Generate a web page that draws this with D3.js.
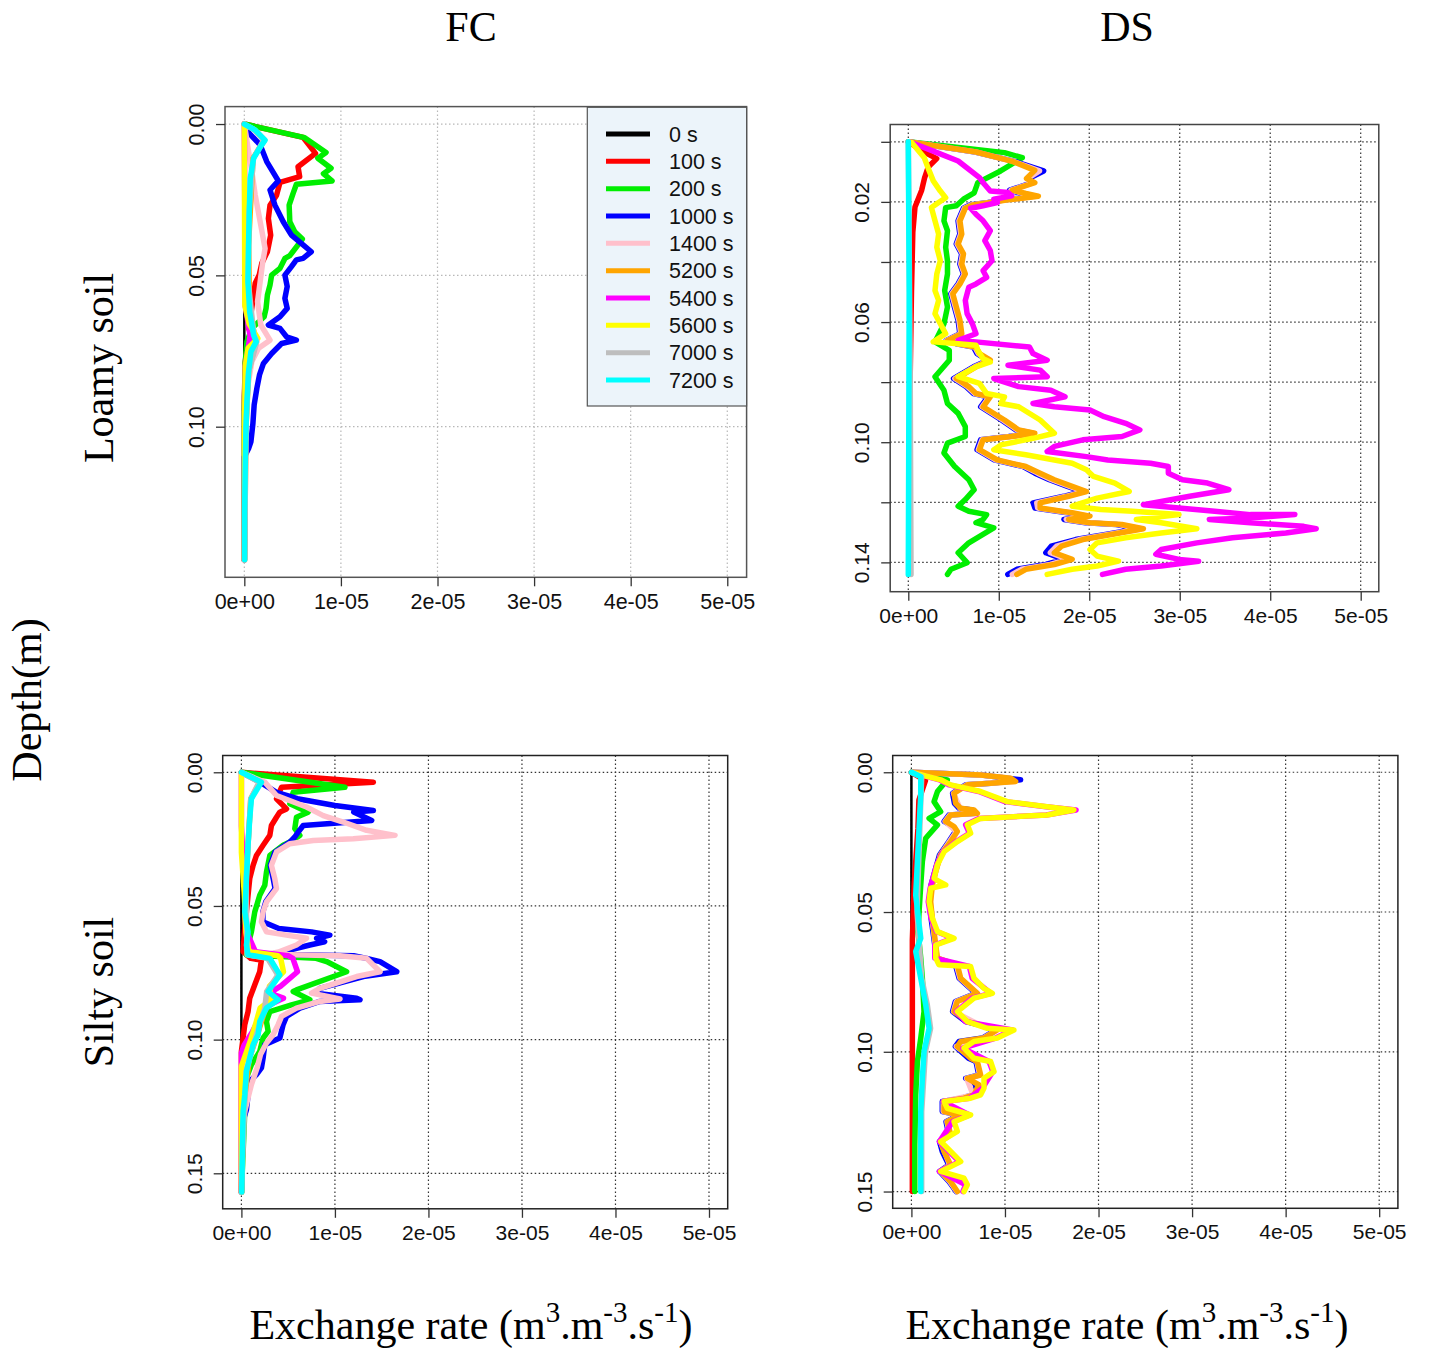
<!DOCTYPE html>
<html><head><meta charset="utf-8">
<script src="https://cdn.jsdelivr.net/npm/d3@7"></script>
<style>body{margin:0;background:#fff}svg{display:block}</style>
</head><body>
<svg id="chart" width="1431" height="1353"></svg>
<script>
// Each series: [depth (m), exchange rate in units of 1e-5 m3.m-3.s-1]
const times = ["0 s","100 s","200 s","1000 s","1400 s","5200 s","5400 s","5600 s","7000 s","7200 s"];
const xTickValues = [0,1,2,3,4,5];
const xTickLabels = ["0e+00","1e-05","2e-05","3e-05","4e-05","5e-05"];
const colTitles = ["FC","DS"];
const rowTitles = ["Loamy soil","Silty soil"];

// ---------- Loamy soil, FC ----------
const LFC_0 = [[0,0],[0.144,0]];
const LFC_100 = [[0,0],[.0044,.608],[.0097,.737],[.0141,.556],[.0174,.573],[.0193,.369],[.0235,.334],[.0268,.266],[.0312,.249],[.0367,.273],[.0422,.239],[.046,.181],[.0499,.154],[.0526,.113],[.0565,.096],[.062,.072],[.0675,.044],[.0708,.09],[.0741,.027],[.0785,.01],[.0873,.003],[.09,0],[.144,0]];
const LFC_200 = [[0,0],[.0045,.625],[.0094,.846],[.0113,.761],[.0146,.898],[.0164,.819],[.0188,.908],[.0199,.539],[.0229,.505],[.0268,.464],[.0323,.471],[.0356,.522],[.038,.601],[.0435,.471],[.0444,.42],[.0477,.369],[.0499,.283],[.0532,.266],[.0565,.239],[.0609,.225],[.0637,.205],[.0675,.078],[.0719,.027],[.0785,.01],[.0895,.003],[.095,0],[.144,0]];
const LFC_1000 = [[0,0],[.0028,.044],[.0069,.164],[.0124,.232],[.0188,.352],[.0218,.266],[.0268,.317],[.0323,.403],[.0367,.488],[.0394,.59],[.0422,.693],[.0444,.608],[.0449,.539],[.0471,.488],[.0499,.42],[.0537,.444],[.0576,.42],[.0609,.444],[.0637,.369],[.0664,.249],[.0675,.369],[.0703,.437],[.0714,.539],[.0725,.386],[.0758,.283],[.0791,.198],[.0829,.157],[.0873,.13],[.0928,.102],[.0989,.089],[.105,.068],[.1072,.044],[.11,0],[.144,0]];
const LFC_1400 = [[0,0],[.0091,.044],[.0157,.078],[.0235,.113],[.0323,.164],[.0411,.215],[.0455,.191],[.0521,.164],[.0587,.137],[.0664,.171],[.0714,.266],[.0741,.147],[.0785,.078],[.0851,.044],[.0895,.02],[.095,.003],[.144,0]];
const LFC_5200 = [[0,0],[.002,.11],[.0053,.21],[.0113,.09],[.04,.044],[.062,.055],[.0719,.12],[.0818,.044],[.1005,.017],[.144,.003]];
const LFC_5400 = [[0,0],[.06,.01],[.07,.06],[.08,.01],[.089,.01],[.144,0]];
const LFC_5600 = [[0,0],[.06,.005],[.066,.05],[.0708,.14],[.074,.04],[.08,.01],[.1,.003],[.144,0]];
const LFC_7000 = [[0,0],[.002,.11],[.0053,.2],[.0113,.095],[.029,.05],[.0521,.04],[.0697,.1],[.0719,.13],[.0818,.045],[.1005,.017],[.144,.003]];
const LFC_7200 = [[0,0],[.002,.113],[.0053,.215],[.008,.157],[.0113,.096],[.018,.061],[.029,.051],[.04,.044],[.0521,.038],[.062,.055],[.0697,.096],[.0719,.123],[.0752,.068],[.0818,.044],[.0917,.027],[.1005,.017],[.1116,.01],[.128,.003],[.144,.003]];

// ---------- Loamy soil, DS ----------
const LDS_0 = [[0,0],[0.144,0]];
const LDS_100 = [[0,0],[.003,.15],[.0056,.314],[.0084,.22],[.012,.18],[.0161,.148],[.0217,.074],[.03,.05],[.05,.035],[.07,.025],[.09,.015],[.11,.01],[.144,.005]];
const LDS_200 = [[0,0],[.0036,1.063],[.0053,1.26],[.0097,1.02],[.0136,.768],[.017,.728],[.0191,.61],[.0213,.531],[.0219,.413],[.0263,.394],[.0296,.433],[.0351,.413],[.0396,.433],[.044,.433],[.0495,.402],[.055,.433],[.0606,.394],[.0666,.295],[.0694,.453],[.0727,.453],[.0782,.295],[.0827,.394],[.0871,.433],[.0904,.551],[.0948,.63],[.0981,.63],[.1003,.433],[.1036,.394],[.1081,.512],[.1125,.669],[.1158,.728],[.1191,.63],[.1213,.551],[.123,.669],[.1241,.866],[.1257,.827],[.1268,.748],[.1285,.945],[.1335,.669],[.1368,.551],[.1401,.65],[.1423,.472],[.144,.433]];
const LDS_1000 = [[0,0],[.0034,.74],[.0065,1.17],[.0097,1.496],[.0122,1.33],[.0136,1.37],[.0161,1.12],[.0172,1.25],[.0181,1.38],[.0194,1.05],[.0202,.88],[.021,.68],[.0221,.61],[.0263,.55],[.0307,.57],[.034,.53],[.0373,.59],[.0407,.57],[.044,.61],[.0473,.55],[.0506,.47],[.055,.51],[.0594,.55],[.0639,.57],[.0661,.42],[.0672,.53],[.0683,.72],[.0705,.76],[.0727,.88],[.0749,.72],[.0788,.50],[.0815,.64],[.0838,.72],[.0849,.88],[.0882,.80],[.0926,1.03],[.0959,1.19],[.097,1.37],[.0981,1.11],[.0992,.80],[.1025,.76],[.1059,.95],[.1081,1.27],[.1103,1.40],[.1125,1.56],[.1147,1.76],[.1164,1.92],[.118,1.72],[.1202,1.38],[.1219,1.40],[.1235,1.76],[.1246,1.96],[.1257,1.72],[.1268,1.96],[.1274,2.30],[.1288,2.55],[.1307,2.18],[.1324,1.85],[.1346,1.58],[.1368,1.52],[.139,1.72],[.1407,1.52],[.1423,1.20],[.144,1.10]];
const LDS_1400 = [[0,0],[.0034,.745],[.0065,1.16],[.0097,1.45],[.0122,1.32],[.0136,1.385],[.0161,1.135],[.0172,1.275],[.0181,1.41],[.0194,1.065],[.0202,.89],[.021,.695],[.0221,.62],[.0263,.56],[.0307,.58],[.034,.54],[.0373,.60],[.0407,.58],[.044,.62],[.0473,.56],[.0506,.48],[.055,.52],[.0594,.56],[.0639,.58],[.0661,.425],[.0672,.54],[.0683,.735],[.0705,.775],[.0727,.895],[.0749,.735],[.0788,.515],[.0815,.655],[.0838,.735],[.0849,.895],[.0882,.815],[.0926,1.045],[.0959,1.205],[.097,1.385],[.0981,1.125],[.0992,.815],[.1025,.775],[.1059,.965],[.1081,1.285],[.1103,1.43],[.1125,1.585],[.1147,1.785],[.1164,1.945],[.118,1.745],[.1202,1.42],[.1219,1.43],[.1235,1.785],[.1246,1.985],[.1257,1.745],[.1268,1.985],[.1274,2.33],[.1288,2.575],[.1307,2.21],[.1324,1.89],[.1346,1.64],[.1368,1.57],[.139,1.765],[.1407,1.57],[.1423,1.25],[.144,1.15]];
const LDS_5200 = [[0,0],[.0034,.75],[.0065,1.15],[.0095,1.398],[.0122,1.307],[.0136,1.398],[.0161,1.15],[.0172,1.30],[.0181,1.437],[.0194,1.083],[.0202,.906],[.021,.709],[.0221,.63],[.0263,.571],[.0307,.591],[.034,.551],[.0373,.61],[.0407,.591],[.044,.63],[.0473,.571],[.0506,.492],[.055,.531],[.0594,.571],[.0639,.591],[.0661,.433],[.0672,.551],[.0683,.748],[.0705,.787],[.0727,.906],[.0749,.748],[.0788,.531],[.0815,.669],[.0838,.748],[.0849,.906],[.0882,.827],[.0926,1.063],[.0959,1.22],[.097,1.398],[.0981,1.142],[.0992,.827],[.1025,.787],[.1059,.984],[.1081,1.299],[.1103,1.457],[.1125,1.614],[.1147,1.811],[.1164,1.969],[.118,1.772],[.1202,1.457],[.1219,1.457],[.1235,1.811],[.1246,2.008],[.1257,1.772],[.1268,2.008],[.1274,2.36],[.1288,2.598],[.1307,2.244],[.1324,1.929],[.1346,1.693],[.1368,1.614],[.139,1.811],[.1407,1.614],[.1423,1.299],[.144,1.2]];
const LDS_5400 = [[0,0],[.0003,.039],[.0031,.276],[.0064,.551],[.0119,.787],[.0136,.827],[.0164,.906],[.0169,1.102],[.018,1.142],[.0191,.945],[.0202,.984],[.0213,.827],[.0221,.689],[.0241,.748],[.0263,.827],[.0296,.906],[.0329,.846],[.0362,.906],[.0396,.925],[.0429,.827],[.0451,.866],[.0473,.748],[.0484,.669],[.0528,.63],[.0572,.65],[.0606,.709],[.0639,.748],[.0661,.551],[.0666,.748],[.0683,1.339],[.0705,1.378],[.0727,1.535],[.0744,1.102],[.076,1.457],[.0782,1.535],[.0788,.945],[.0815,1.22],[.0827,1.575],[.0849,1.732],[.0871,1.378],[.0882,1.614],[.0893,2.008],[.0915,2.165],[.0937,2.402],[.0959,2.559],[.0981,2.362],[.0992,1.929],[.1014,1.614],[.1031,1.535],[.1048,1.969],[.1059,2.205],[.107,2.677],[.1081,2.874],[.1103,2.874],[.1125,3.031],[.1136,3.307],[.1158,3.543],[.118,3.11],[.1208,2.598],[.1219,2.992],[.123,3.386],[.1241,3.78],[.1241,4.272],[.1252,3.78],[.1257,3.327],[.1268,3.78],[.128,4.37],[.1288,4.508],[.1302,4.173],[.1318,3.583],[.1335,3.189],[.1357,2.795],[.1373,2.736],[.139,2.992],[.1396,3.209],[.1412,2.795],[.1423,2.402],[.144,2.146]];
const LDS_5600 = [[0,0],[.0003,.039],[.0053,.177],[.0086,.217],[.013,.276],[.0164,.354],[.0186,.413],[.0202,.335],[.0219,.256],[.0263,.295],[.0307,.335],[.0351,.315],[.0396,.354],[.044,.315],[.0495,.295],[.0528,.335],[.0572,.295],[.0639,.413],[.0666,.276],[.0672,.551],[.0677,.748],[.0694,.768],[.0722,.827],[.0733,.906],[.0749,.748],[.0782,.551],[.0804,.787],[.0838,.866],[.0849,1.063],[.0871,1.024],[.0882,1.22],[.0926,1.457],[.097,1.614],[.0987,1.378],[.1009,1.024],[.1025,.945],[.1042,1.299],[.1059,1.614],[.107,1.811],[.1092,1.969],[.1114,2.047],[.1136,2.283],[.1164,2.441],[.1186,2.087],[.1213,1.811],[.1224,2.126],[.123,2.48],[.1241,2.992],[.1257,2.52],[.1268,2.795],[.1288,3.189],[.1302,2.795],[.1318,2.402],[.1335,2.087],[.1357,2.008],[.1379,2.087],[.1396,2.323],[.1412,2.087],[.1423,1.811],[.144,1.535]];
const LDS_7000 = [[0,0],[.07,.02],[.144,.03]];
const LDS_7200 = [[0,0],[.05,.01],[.1,.005],[.144,0]];

// ---------- Silty soil, FC ----------
const SFC_0 = [[0,0],[0.157,0]];
const SFC_100 = [[0,0],[.0037,1.411],[.0056,.429],[.0099,.375],[.0137,.482],[.0149,.411],[.0168,.375],[.0199,.321],[.0236,.304],[.0273,.232],[.0311,.161],[.0348,.125],[.0398,.089],[.046,.071],[.0522,.054],[.0584,.036],[.0671,.018],[.0696,.1],[.0702,.214],[.0746,.196],[.0795,.143],[.0845,.089],[.0895,.071],[.0944,.036],[.0994,.018],[.1044,0],[.157,0]];
const SFC_200 = [[0,0],[.0056,1.107],[.0075,.554],[.0118,.518],[.0149,.714],[.0168,.589],[.0211,.571],[.0236,.625],[.0261,.518],[.0273,.446],[.0311,.304],[.0373,.268],[.0423,.25],[.046,.196],[.0522,.143],[.0597,.107],[.0646,.071],[.0683,.054],[.0696,.8],[.0708,.911],[.0746,1.125],[.0814,.589],[.082,.554],[.0851,.732],[.087,.536],[.0895,.304],[.0932,.268],[.0969,.286],[.0994,.232],[.1044,.196],[.1094,.107],[.1143,.054],[.1268,.036],[.1367,.025],[.157,0]];
const SFC_1000 = [[0,0],[.0037,.2],[.0075,.375],[.0099,.6],[.0124,1.0],[.0143,1.411],[.0149,1.2],[.018,1.393],[.0199,.661],[.0224,.607],[.0242,.571],[.0261,.518],[.0298,.36],[.0348,.31],[.0398,.34],[.0435,.36],[.0485,.26],[.0522,.23],[.0559,.23],[.0584,.4],[.0597,.75],[.0609,.946],[.0621,.804],[.0634,.89],[.0646,.732],[.0671,.45],[.0681,.3],[.0686,1.2],[.0696,1.339],[.0708,1.482],[.0746,1.661],[.0764,1.304],[.0808,.839],[.0826,.8],[.0845,1.232],[.0851,1.268],[.0857,.839],[.0882,.625],[.0913,.482],[.0944,.446],[.0994,.411],[.1019,.25],[.1069,.232],[.1106,.214],[.1131,.161],[.1156,.089],[.1206,.071],[.1262,.054],[.13,.02],[.157,0]];
const SFC_1400 = [[0,0],[.0037,.25],[.0087,.375],[.013,.696],[.0162,.875],[.0186,1.089],[.0217,1.339],[.0236,1.643],[.0249,1.196],[.0255,.768],[.0267,.518],[.0298,.375],[.0348,.321],[.0398,.357],[.0435,.375],[.0485,.268],[.0522,.232],[.0559,.214],[.0597,.268],[.0609,.482],[.0621,.696],[.0646,.589],[.0671,.411],[.0681,.268],[.0686,1.054],[.0696,1.339],[.0746,1.482],[.0764,1.232],[.0808,.839],[.0826,.75],[.0848,1.054],[.0857,.839],[.0882,.589],[.0913,.429],[.0944,.393],[.0982,.339],[.1013,.268],[.1056,.204],[.1106,.168],[.1168,.107],[.1218,.071],[.1268,.036],[.133,.011],[.1392,.004],[.157,0]];
const SFC_5200 = [[0,0],[.0037,.2],[.0099,.1],[.0273,.07],[.0522,.036],[.0683,.07],[.0696,.3],[.0758,.4],[.082,.28],[.0882,.26],[.0982,.17],[.1069,.085],[.1268,.018],[.157,.004]];
const SFC_5400 = [[0,0],[.02,0],[.06,.06],[.0671,.15],[.0686,.5],[.0696,.55],[.0746,.6],[.08,.42],[.0826,.3],[.0845,.45],[.087,.3],[.0913,.2],[.0969,.12],[.102,.03],[.105,0],[.157,0]];
const SFC_5600 = [[0,0],[.03,0],[.045,.03],[.06,.05],[.0671,.08],[.0686,.39],[.0696,.42],[.0746,.45],[.08,.3],[.0851,.32],[.0882,.2],[.0944,.15],[.1,.1],[.106,.04],[.11,0],[.13,0],[.157,0]];
const SFC_7000 = [[0,0],[.0037,.19],[.0099,.1],[.04,.05],[.0683,.06],[.0696,.28],[.0758,.39],[.082,.27],[.0882,.25],[.0982,.16],[.1118,.05],[.157,0]];
const SFC_7200 = [[0,0],[.0037,.214],[.0099,.107],[.0174,.089],[.0273,.071],[.0398,.054],[.0522,.036],[.0597,.071],[.0646,.054],[.0683,.071],[.0696,.304],[.0758,.411],[.082,.286],[.0851,.393],[.0882,.268],[.0932,.196],[.0982,.179],[.1019,.125],[.1069,.089],[.1118,.054],[.1205,.036],[.1268,.018],[.1392,.011],[.157,.004]];

// ---------- Silty soil, DS ----------
const SDS_0 = [[0,0],[0.15,0]];
const SDS_100 = [[0,0],[.003,.15],[.01,.08],[.02,.07],[.03,.05],[.04,.03],[.06,.01],[.15,.01]];
const SDS_200 = [[0,0],[.0027,.384],[.0069,.278],[.0105,.242],[.0141,.313],[.0165,.189],[.0188,.278],[.0236,.153],[.032,.117],[.0403,.1],[.0498,.082],[.057,.071],[.0665,.1],[.0737,.117],[.0856,.135],[.0951,.1],[.1035,.064],[.1154,.046],[.1333,.036],[.15,.036]];
const SDS_1000 = [[0,0],[.001,.75],[.0027,1.167],[.0039,.85],[.0045,.58],[.0075,.44],[.0111,.46],[.0129,.51],[.0135,.65],[.0147,.69],[.0153,.40],[.0176,.35],[.0194,.44],[.0212,.47],[.0248,.40],[.0296,.30],[.0355,.25],[.0403,.21],[.0463,.19],[.0522,.21],[.057,.23],[.0618,.25],[.0665,.27],[.0689,.47],[.0737,.51],[.0791,.69],[.082,.47],[.0856,.44],[.0892,.58],[.0904,.72],[.0922,.90],[.0951,.76],[.0963,.51],[.0981,.47],[.1023,.61],[.1035,.69],[.1083,.72],[.1095,.58],[.1118,.70],[.1154,.65],[.1166,.54],[.1178,.33],[.1214,.33],[.1226,.51],[.125,.37],[.1297,.40],[.1321,.30],[.1357,.33],[.1405,.40],[.1428,.30],[.1464,.40],[.15,.48]];
const SDS_1400 = [[0,0],[.001,.74],[.0021,1.05],[.0033,1.1],[.0045,.59],[.0075,.45],[.0129,.52],[.0147,.70],[.0153,.41],[.0176,.36],[.0212,.48],[.0296,.31],[.0403,.22],[.0463,.20],[.0618,.255],[.0665,.275],[.0689,.48],[.0737,.52],[.0791,.70],[.082,.48],[.0856,.45],[.0904,.73],[.0922,.91],[.0951,.77],[.0981,.48],[.1035,.70],[.1083,.73],[.1095,.59],[.1154,.66],[.1178,.34],[.1214,.34],[.1226,.52],[.125,.38],[.1297,.41],[.1321,.31],[.1405,.41],[.1428,.31],[.1464,.41],[.15,.485]];
const SDS_5200 = [[0,0],[.001,.74],[.0021,1.06],[.0033,1.114],[.0039,.847],[.0045,.598],[.0075,.456],[.0111,.473],[.0129,.527],[.0135,.669],[.0147,.705],[.0153,.42],[.0176,.367],[.0194,.456],[.0212,.491],[.0248,.42],[.0296,.313],[.0355,.26],[.0403,.224],[.0463,.206],[.0522,.224],[.057,.242],[.0618,.26],[.0665,.278],[.0689,.491],[.0737,.527],[.0791,.705],[.082,.491],[.0856,.456],[.0892,.598],[.0904,.74],[.0922,.918],[.0951,.776],[.0963,.527],[.0981,.491],[.1023,.633],[.1035,.705],[.1083,.74],[.1095,.598],[.1118,.72],[.1154,.669],[.1166,.562],[.1178,.349],[.1214,.349],[.1226,.527],[.125,.384],[.1297,.42],[.1321,.313],[.1357,.349],[.1405,.42],[.1428,.313],[.1464,.42],[.15,.491]];
const SDS_5400 = [[0,0],[.0027,.30],[.0045,.40],[.0069,.72],[.0105,1.0],[.0123,1.44],[.0135,1.76],[.0153,1.44],[.0165,.72],[.0188,.58],[.0218,.62],[.0248,.48],[.0284,.34],[.0331,.27],[.0379,.23],[.0415,.20],[.0463,.18],[.0522,.21],[.057,.27],[.0594,.44],[.0618,.25],[.0665,.25],[.0695,.62],[.0737,.65],[.0791,.85],[.0808,.65],[.0856,.48],[.0892,.58],[.0922,1.08],[.0951,.90],[.0987,.55],[.1035,.83],[.1071,.87],[.113,.76],[.1166,.62],[.1178,.34],[.1226,.62],[.125,.44],[.1321,.30],[.1393,.51],[.1428,.30],[.1476,.58],[.15,.55]];
const SDS_5600 = [[0,0],[.0027,.313],[.0045,.42],[.0069,.74],[.0105,1.025],[.0123,1.452],[.0135,1.737],[.0153,1.452],[.0165,.74],[.0188,.598],[.0218,.633],[.0248,.491],[.0284,.349],[.0331,.278],[.0379,.242],[.0391,.295],[.0403,.367],[.0415,.206],[.0463,.189],[.0522,.224],[.057,.278],[.0594,.456],[.0618,.26],[.0665,.26],[.0689,.295],[.0695,.633],[.0737,.669],[.0773,.776],[.0791,.865],[.0808,.669],[.0856,.491],[.0892,.598],[.0916,.811],[.0922,1.096],[.0951,.918],[.0963,.669],[.0987,.562],[.1023,.669],[.1035,.847],[.1071,.883],[.1095,.776],[.113,.776],[.1154,.74],[.1166,.633],[.1178,.349],[.1202,.384],[.1226,.633],[.125,.456],[.1285,.491],[.1321,.313],[.1357,.42],[.1393,.527],[.1428,.313],[.1452,.562],[.1476,.598],[.15,.562]];
const SDS_7000 = [[0,0],[.0016,.11],[.02,.09],[.05,.06],[.0737,.11],[.0832,.17],[.0916,.205],[.0999,.15],[.1214,.11],[.15,.11]];
const SDS_7200 = [[0,0],[.0016,.1],[.0081,.1],[.02,.082],[.032,.064],[.0439,.046],[.0594,.1],[.0641,.046],[.0737,.1],[.0832,.153],[.0916,.189],[.0999,.135],[.1094,.117],[.1214,.1],[.1333,.1],[.15,.1]];

// y tick values / labels per panel
const yTicksA = [0,0.05,0.10], yLabelsA = ["0.00","0.05","0.10"];
const yTicksB = [0,0.02,0.04,0.06,0.08,0.10,0.12,0.14], yLabelsB = ["","0.02","","0.06","","0.10","","0.14"];
const yTicksC = [0,0.05,0.10,0.15], yLabelsC = ["0.00","0.05","0.10","0.15"];

const colors = ["#000000","#ff0000","#00ee00","#0000ff","#ffc0cb","#ffa500","#ff00ff","#ffff00","#bebebe","#00ffff"];

const panels = [
  {series:[LFC_0,LFC_100,LFC_200,LFC_1000,LFC_1400,LFC_5200,LFC_5400,LFC_5600,LFC_7000,LFC_7200],
   box:[225,106.6,746.6,577.3], yt:yTicksA, yl:yLabelsA, grid:"#b8b8b8", frame:"#555", legend:true, fs:21.5},
  {series:[LDS_0,LDS_100,LDS_200,LDS_1000,LDS_1400,LDS_5200,LDS_5400,LDS_5600,LDS_7000,LDS_7200],
   box:[890.2,124.5,1378.8,591.7], yt:yTicksB, yl:yLabelsB, grid:"#333", frame:"#444", fs:21},
  {series:[SFC_0,SFC_100,SFC_200,SFC_1000,SFC_1400,SFC_5200,SFC_5400,SFC_5600,SFC_7000,SFC_7200],
   box:[222.7,755.5,727.7,1208.8], yt:yTicksC, yl:yLabelsC, grid:"#333", frame:"#222", fs:21},
  {series:[SDS_0,SDS_100,SDS_200,SDS_1000,SDS_1400,SDS_5200,SDS_5400,SDS_5600,SDS_7000,SDS_7200],
   box:[892.7,755.5,1397.9,1208.3], yt:yTicksC, yl:yLabelsC, grid:"#333", frame:"#222", fs:21}
];

const svg = d3.select("#chart");
const sansFont = "'Liberation Sans', Arial, sans-serif";
const serifFont = "'Liberation Serif', 'Times New Roman', serif";

panels.forEach(p => {
  const [L,T,R,B] = p.box;
  const maxD = d3.max(p.series, s => d3.max(s, d => d[0]));
  const x = d3.scaleLinear().domain([-0.04*5, 5*1.04]).range([L,R]);
  const y = d3.scaleLinear().domain([-0.04*maxD, maxD*1.04]).range([T,B]);
  const g = svg.append("g");

  // grid
  g.selectAll(".gx").data(xTickValues).enter().append("line")
    .attr("x1", d=>x(d)).attr("x2", d=>x(d)).attr("y1", T).attr("y2", B)
    .attr("stroke", p.grid).attr("stroke-width", 1.2).attr("stroke-dasharray", "1.5,2.5");
  g.selectAll(".gy").data(p.yt).enter().append("line")
    .attr("y1", d=>y(d)).attr("y2", d=>y(d)).attr("x1", L).attr("x2", R)
    .attr("stroke", p.grid).attr("stroke-width", 1.2).attr("stroke-dasharray", "1.5,2.5");

  // series
  const line = d3.line().x(d=>x(d[1])).y(d=>y(d[0]));
  p.series.forEach((s,i) => {
    g.append("path").datum(s).attr("d", line)
      .attr("fill","none").attr("stroke", colors[i])
      .attr("stroke-width", i===0 ? 2.5 : 5.5)
      .attr("stroke-linejoin","round").attr("stroke-linecap","round");
  });

  // frame
  g.append("rect").attr("x",L).attr("y",T).attr("width",R-L).attr("height",B-T)
    .attr("fill","none").attr("stroke",p.frame).attr("stroke-width",1.5);

  // axes
  const ax = g.append("g").attr("transform",`translate(0,${B})`)
    .call(d3.axisBottom(x).tickValues(xTickValues).tickFormat((d,i)=>xTickLabels[i]).tickSize(9).tickSizeOuter(0).tickPadding(7));
  ax.select(".domain").remove();
  ax.selectAll("line").attr("stroke","#333").attr("stroke-width",1.3);
  ax.selectAll("text").attr("font-family",sansFont).attr("font-size",p.fs).attr("fill","#111");

  const ay = g.append("g").attr("transform",`translate(${L},0)`)
    .call(d3.axisLeft(y).tickValues(p.yt).tickFormat((d,i)=>p.yl[i]).tickSize(9).tickSizeOuter(0));
  ay.select(".domain").remove();
  ay.selectAll("line").attr("stroke","#333").attr("stroke-width",1.3);
  ay.selectAll("text").attr("font-family",sansFont).attr("font-size",p.fs).attr("fill","#111")
    .attr("x",0).attr("dy",0).attr("text-anchor","middle")
    .attr("transform","translate(-21,0) rotate(-90)");

  if (p.legend) {
    const lg = g.append("g");
    const lx = 587.3, ly = 107.3, lw = R - 587.3, lh = 298.7;
    lg.append("rect").attr("x",lx).attr("y",ly).attr("width",lw).attr("height",lh)
      .attr("fill","#ecf4fa").attr("stroke","#555").attr("stroke-width",1.2);
    times.forEach((t,i) => {
      const yy = 134 + i*27.33;
      lg.append("line").attr("x1",606).attr("x2",650).attr("y1",yy).attr("y2",yy)
        .attr("stroke",colors[i]).attr("stroke-width",5);
      lg.append("text").attr("x",669).attr("y",yy).attr("dy","0.36em")
        .attr("font-family",sansFont).attr("font-size",21.5).attr("fill","#111").text(t);
    });
  }
});

// column titles
const colX = [471, 1127];
colTitles.forEach((t,i) => {
  svg.append("text").attr("x",colX[i]).attr("y",41).attr("text-anchor","middle")
    .attr("font-family",serifFont).attr("font-size",42).attr("fill","#000").text(t);
});
// row titles
const rowY = [368, 992];
rowTitles.forEach((t,i) => {
  svg.append("text").attr("transform",`translate(113,${rowY[i]}) rotate(-90)`).attr("text-anchor","middle")
    .attr("font-family",serifFont).attr("font-size",42).attr("fill","#000").text(t);
});
svg.append("text").attr("transform","translate(41,700) rotate(-90)").attr("text-anchor","middle")
  .attr("font-family",serifFont).attr("font-size",42).attr("fill","#000").text("Depth(m)");

// x axis titles with superscripts
colX.forEach(cx => {
  const t = svg.append("text").attr("x",cx).attr("y",1339).attr("text-anchor","middle")
    .attr("font-family",serifFont).attr("font-size",42).attr("fill","#000");
  const parts = [["Exchange rate (m",0],["3",1],[".m",0],["-3",1],[".s",0],["-1",1],[")",0]];
  let raised = false;
  parts.forEach(([s,sup]) => {
    const ts = t.append("tspan").text(s);
    if (sup) { ts.attr("font-size",29); if(!raised){ts.attr("dy",-17); raised=true;} }
    else if (raised) { ts.attr("dy",17); raised=false; }
  });
});
</script>
</body></html>
